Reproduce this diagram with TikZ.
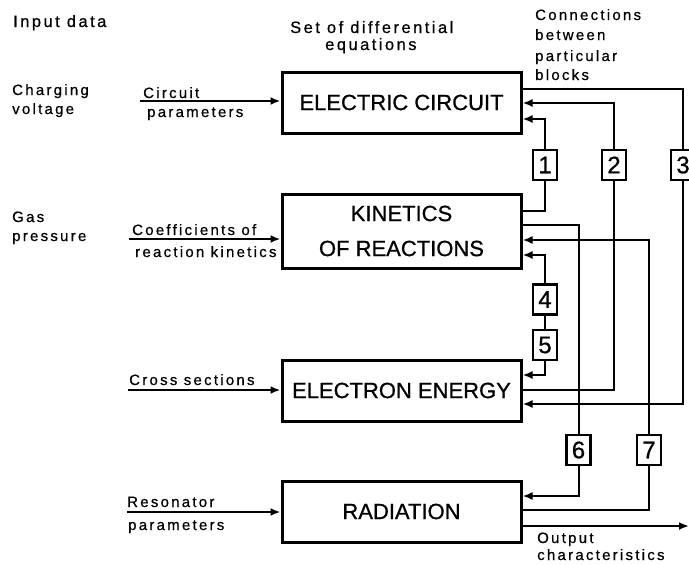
\documentclass[tikz,border=0pt]{standalone}
\usepackage{fontspec}
\setmainfont{Liberation Sans}
\newfontfamily\lblfont[LetterSpace=15,FakeBold=0.6]{Liberation Sans}
\newfontfamily\bigfont[FakeBold=0.8]{Liberation Sans}
\usetikzlibrary{arrows.meta}
\begin{document}
\begin{tikzpicture}[x=1pt,y=-1pt,
  blk/.style={draw, line width=3pt, minimum width=239pt, inner sep=0pt,
    font=\bigfont\fontsize{22}{35}\selectfont, align=center},
  numbox/.style={draw, line width=2.4pt, minimum width=24pt, minimum height=30pt,
    inner sep=0pt, font=\bigfont\fontsize{24}{24}\selectfont},
  lbl/.style={anchor=base west, inner sep=0pt, font=\lblfont\fontsize{15}{18}\selectfont},
  hdr/.style={anchor=base west, inner sep=0pt, font=\lblfont\fontsize{16.5}{18}\selectfont},
  conn/.style={line width=2pt},
  arr/.style={conn, -{Latex[length=10pt,width=8pt]}},
]
\useasboundingbox (0,0) rectangle (689,565);

% main blocks
\node[blk, minimum height=61pt] (ec)  at (401.5,102.5) {ELECTRIC CIRCUIT};
\node[blk, minimum height=74pt] (kr)  at (401.5,231)   {KINETICS\\OF REACTIONS};
\node[blk, minimum height=61pt] (ee)  at (401.5,390.5) {ELECTRON ENERGY};
\node[blk, minimum height=61pt] (rad) at (401.5,511.5) {RADIATION};

% numbered connection boxes
\node[numbox] (n1) at (545,165)   {1};
\node[numbox] (n2) at (614,165)   {2};
\node[numbox] (n3) at (683,165)   {3};
\node[numbox] (n4) at (545,299.5) {4};
\node[numbox] (n5) at (545,345)   {5};
\node[numbox] (n6) at (578.5,450) {6};
\node[numbox] (n7) at (649,450)   {7};

% headers
\node[hdr] (h1) at (13,27) {Input data};
\node[hdr] (h2a) at (290,33) {Set of differential};
\node[hdr] (h2b) at (325,50) {equations};
\node[lbl] (h3a) at (535,20) {Connections};
\node[lbl] (h3b) at (535,40) {between};
\node[lbl] (h3c) at (535,61) {particular};
\node[lbl] (h3d) at (535,80) {blocks};

% input data
\node[lbl] (cv1) at (12,95)  {Charging};
\node[lbl] (cv2) at (12,114) {voltage};
\node[lbl] (gp1) at (12,222) {Gas};
\node[lbl] (gp2) at (12,241) {pressure};

% input arrows
\coordinate (cp) at (140,101);
\coordinate (ck) at (129,239);
\coordinate (cs) at (128,390);
\coordinate (rp) at (127,512);
\draw[arr] (cp) -- (ec.west |- cp);
\draw[arr] (ck) -- (kr.west |- ck);
\draw[arr] (cs) -- (ee.west |- cs);
\draw[arr] (rp) -- (rad.west |- rp);
\node[lbl] (l1a) at (143,98)  {Circuit};
\node[lbl] (l1b) at (147,117) {parameters};
\node[lbl] (l2a) at (132,235) {Coefficients of};
\node[lbl] (l2b) at (135,257) {reaction kinetics};
\node[lbl] (l3)  at (129,385) {Cross sections};
\node[lbl] (l4a) at (127,507) {Resonator};
\node[lbl] (l4b) at (128,530) {parameters};

% connections
\draw[conn] (kr.east |- 0,211) -| (n1.south);
\draw[arr]  (n1.north) |- (ec.east |- 0,119);
\draw[conn] (ee.east |- 0,390) -| (n2.south);
\draw[arr]  (n2.north) |- (ec.east |- 0,103);
\draw[conn] (ec.east |- 0,89) -| (n3.north);
\draw[arr]  (n3.south) |- (ee.east |- 0,404);
\draw[arr]  (n4.north) |- (kr.east |- 0,255);
\draw[conn] (n4.south) -- (n5.north);
\draw[arr]  (n5.south) |- (ee.east |- 0,375);
\draw[conn] (kr.east |- 0,225) -| (n6.north);
\draw[arr]  (n6.south) |- (rad.east |- 0,496);
\draw[conn] (rad.east |- 0,510) -| (n7.south);
\draw[arr]  (n7.north) |- (kr.east |- 0,240);

% output
\coordinate (out) at (689,526);
\draw[arr] (rad.east |- out) -- (out);
\node[lbl] (o1) at (537,543) {Output};
\node[lbl] (o2) at (537,560) {characteristics};
\end{tikzpicture}
\end{document}
